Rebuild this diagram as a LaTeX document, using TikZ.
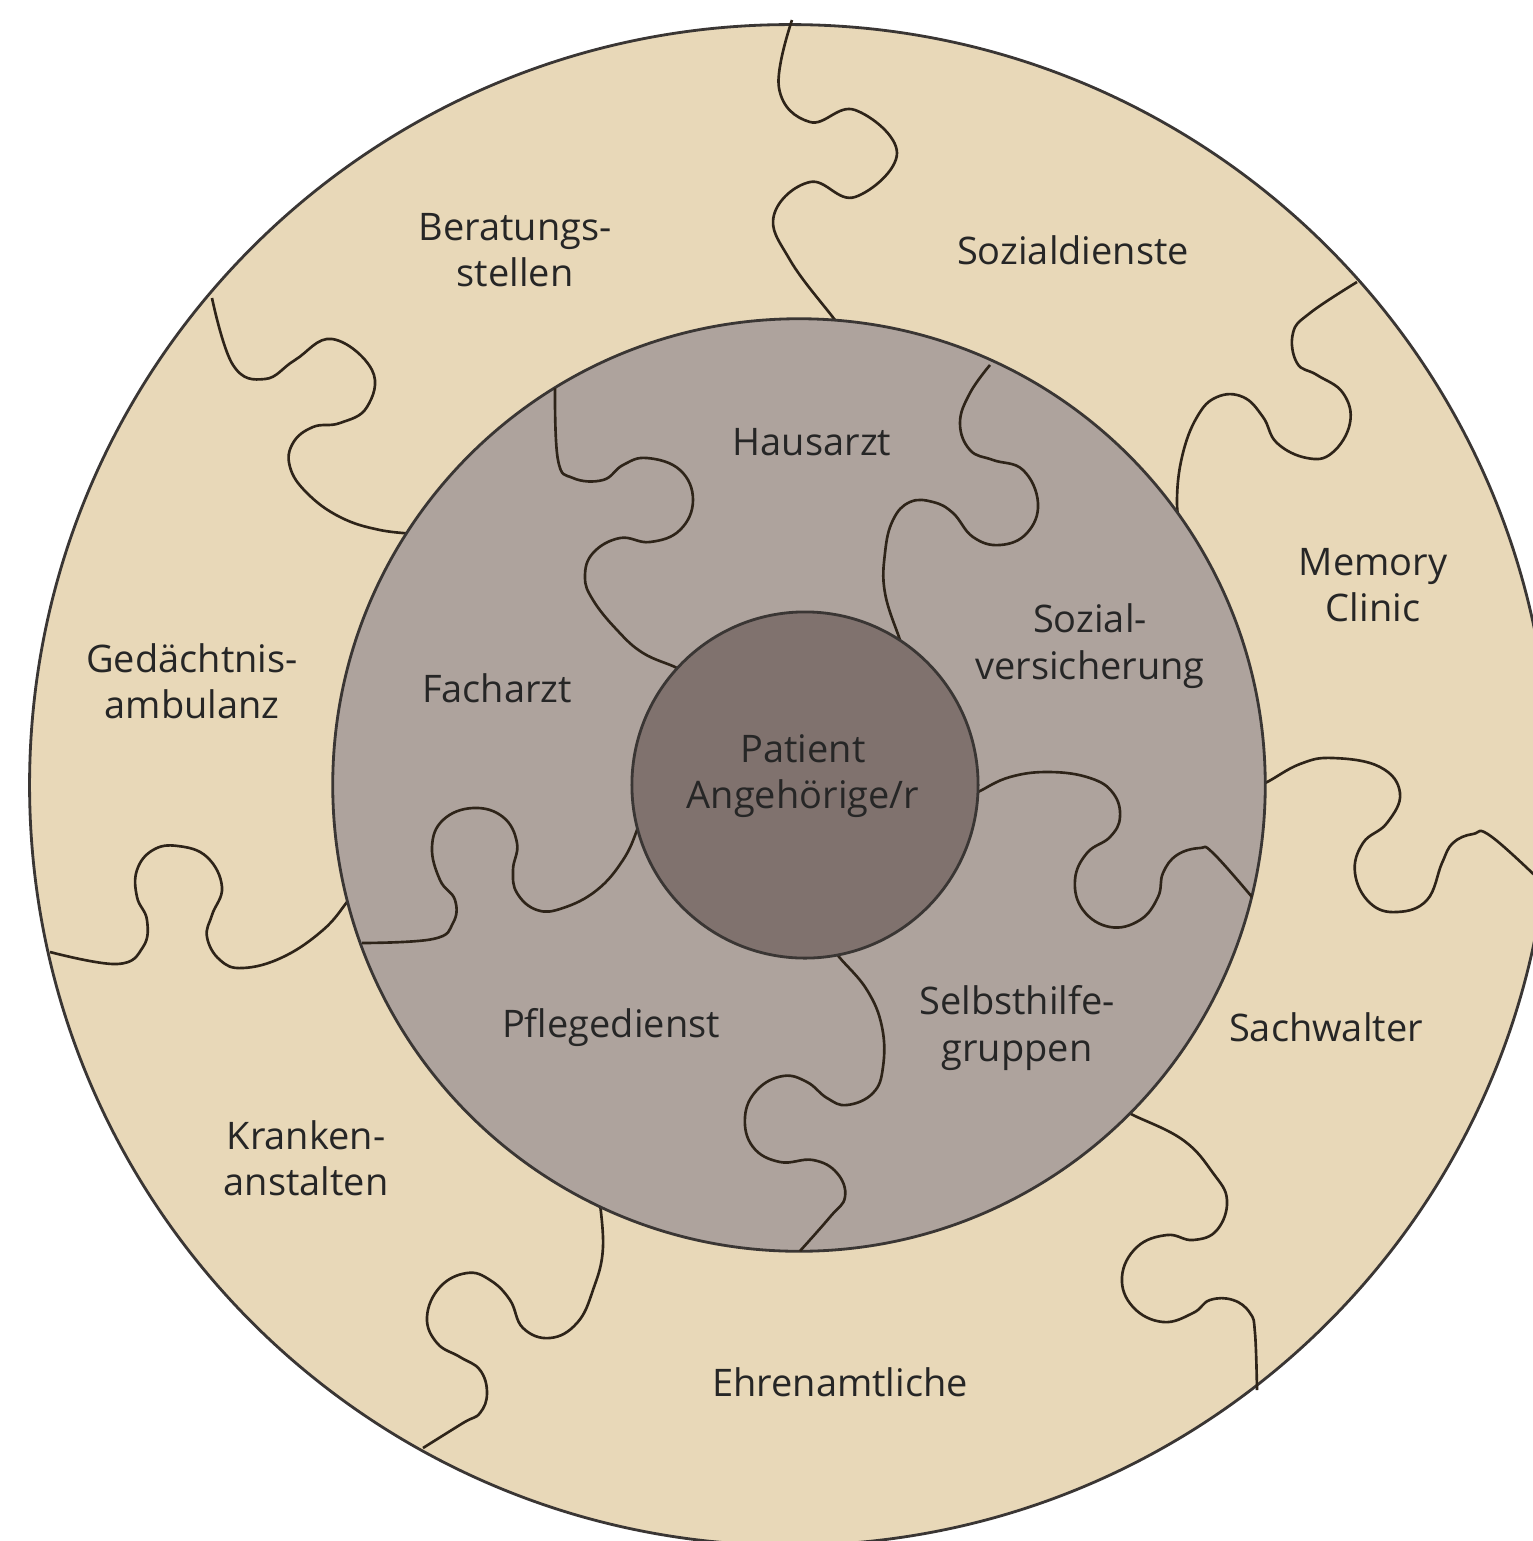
\documentclass[tikz,border=0pt]{standalone}
\usepackage{fontspec}
\setmainfont{Open Sans}
\definecolor{beige}{HTML}{E8D8B8}
\definecolor{midg}{HTML}{AEA39D}
\definecolor{innerg}{HTML}{80726E}
\definecolor{ringc}{HTML}{3A3634}
\definecolor{linec}{HTML}{2E2419}
\definecolor{txt}{HTML}{262626}
\begin{document}
\begin{tikzpicture}[x=0.01cm,y=-0.01cm,
  puz/.style={draw=linec, line width=0.75pt, line join=round},
  ring/.style={draw=ringc, line width=0.8pt},
  lab/.style={font=\fontsize{10.8}{13.2}\selectfont, text=txt, align=center, inner sep=0pt}]
\useasboundingbox (0,0) rectangle (1533,1541);
\clip (0,0) rectangle (1533,1541);
\fill[white] (0,0) rectangle (1533,1541);
% outer ring
\filldraw[ring, fill=beige] (790,785) circle[radius=7.6cm];
% outer puzzle lines
\draw[puz] plot[smooth, tension=0.7] coordinates {(792,20) (779,88) (810,122) (855,110) (897,153) (855,197) (810,182) (774,215) (790,260) (835,320) (850,340)};
\draw[puz] plot[smooth, tension=0.7] coordinates {(212,298) (233,365) (265,379) (295,360) (332,339) (372,370) (367,407) (340,423) (313,427) (293,443) (290,467) (307,493) (340,517) (380,530) (420,534)};
\draw[puz] plot[smooth, tension=0.7] coordinates {(1357,282) (1310,313) (1293,333) (1297,363) (1317,375) (1343,393) (1350,423) (1332,453) (1307,458) (1277,443) (1263,417) (1243,397) (1217,397) (1197,417) (1182,457) (1177,503) (1182,535)};
\draw[puz] plot[smooth, tension=0.7] coordinates {(1250,786) (1265,783) (1300,764) (1333,758) (1380,767) (1400,793) (1387,823) (1363,843) (1355,873) (1370,903) (1397,912) (1427,900) (1442,863) (1453,843) (1473,834) (1492,837) (1550,890)};
\draw[puz] plot[smooth, tension=0.7] coordinates {(50,952) (117,964) (143,947) (147,920) (137,897) (137,870) (153,850) (178,846) (207,857) (222,887) (212,915) (207,937) (220,960) (243,968) (283,957) (323,930) (347,902) (355,890)};
\draw[puz] plot[smooth, tension=0.7] coordinates {(598,1190) (603,1247) (593,1290) (577,1323) (550,1338) (523,1328) (510,1300) (490,1280) (467,1273) (440,1287) (427,1317) (437,1343) (460,1357) (480,1370) (487,1393) (480,1413) (463,1423) (423,1448)};
\draw[puz] plot[smooth, tension=0.7] coordinates {(1120,1108) (1133,1115) (1183,1140) (1213,1173) (1227,1200) (1217,1230) (1193,1240) (1167,1235) (1137,1247) (1122,1277) (1133,1307) (1163,1322) (1193,1313) (1210,1300) (1233,1300) (1250,1313) (1255,1333) (1257,1390)};
% middle ring
\filldraw[ring, fill=midg] (799,785) circle[radius=4.66cm];
% middle puzzle lines
\draw[puz] plot[smooth, tension=0.7] coordinates {(555,388) (558,460) (573,478) (603,480) (623,465) (647,458) (680,470) (693,500) (680,530) (650,542) (620,538) (593,553) (585,577) (593,600) (617,630) (643,653) (677,668) (690,678)};
\draw[puz] plot[smooth, tension=0.7] coordinates {(990,365) (970,393) (960,423) (970,450) (993,460) (1023,470) (1038,503) (1027,533) (1000,545) (973,537) (953,513) (933,502) (910,502) (893,520) (885,553) (885,593) (900,640) (905,655)};
\draw[puz] plot[smooth, tension=0.7] coordinates {(965,798) (978,792) (1010,777) (1050,772) (1090,778) (1113,793) (1120,817) (1110,837) (1087,853) (1075,880) (1083,910) (1110,927) (1140,920) (1158,897) (1163,873) (1177,855) (1200,848) (1213,853) (1252,897)};
\draw[puz] plot[smooth, tension=0.7] coordinates {(830,945) (840,958) (867,990) (882,1027) (883,1067) (873,1093) (847,1105) (827,1098) (807,1082) (783,1076) (757,1090) (745,1117) (753,1147) (780,1162) (813,1160) (837,1173) (845,1197) (830,1217) (800,1251)};
\draw[puz] plot[smooth, tension=0.7] coordinates {(362,943) (433,939) (453,923) (455,900) (440,880) (432,847) (443,820) (473,808) (503,817) (517,843) (513,870) (517,893) (537,910) (563,908) (597,890) (623,860) (637,830) (640,815)};
% inner circle
\filldraw[ring, fill=innerg] (805,785) circle[radius=1.73cm];
% labels
\node[lab] (berat) at (515,250) {Beratungs-\\stellen};
\node[lab] (sozd) at (1073,250) {Sozialdienste};
\node[lab] (mem) at (1373,585) {Memory\\Clinic};
\node[lab] (gedae) at (192,681) {Gedächtnis-\\ambulanz};
\node[lab] (krank) at (306,1158) {Kranken-\\anstalten};
\node[lab] (ehren) at (840,1382) {Ehrenamtliche};
\node[lab] (sach) at (1326,1027) {Sachwalter};
\node[lab] (haus) at (812,442) {Hausarzt};
\node[lab] (sozv) at (1090,646) {Sozial-\\versicherung};
\node[lab] (fach) at (497,688) {Facharzt};
\node[lab] (pflege) at (611,1028) {Pflegedienst};
\node[lab] (selbst) at (1017,1028) {Selbsthilfe-\\gruppen};
\node[lab] (pat) at (803,776) {Patient\\Angehörige/r};
\end{tikzpicture}
\end{document}
